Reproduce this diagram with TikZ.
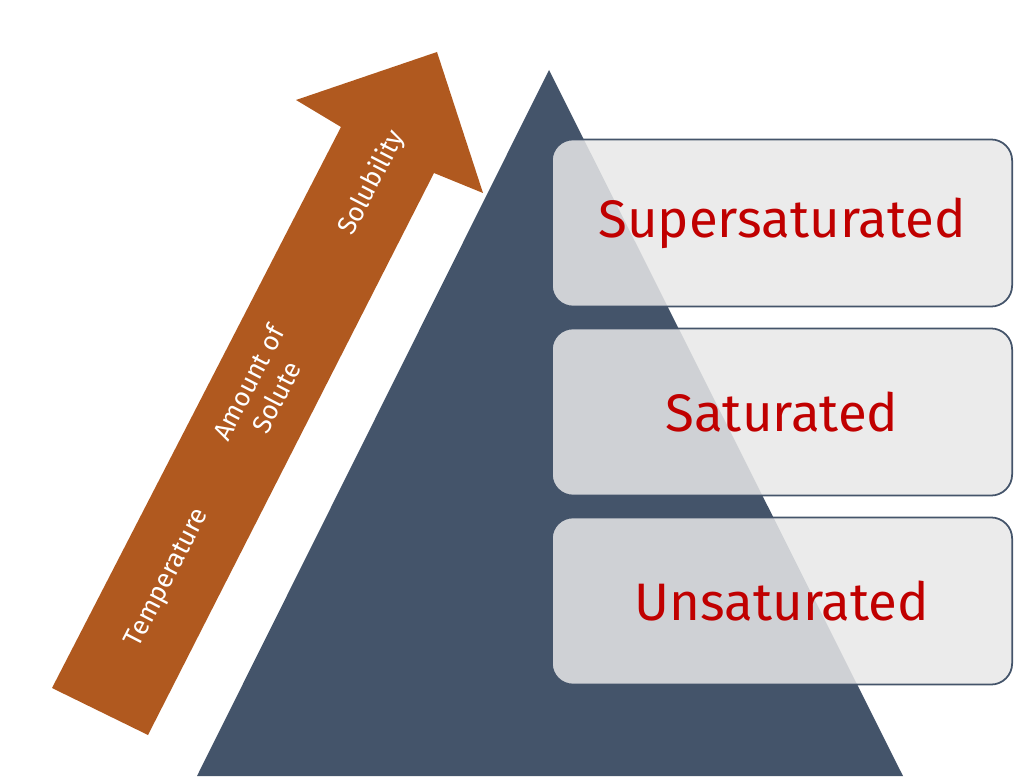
\documentclass[tikz,border=0pt]{standalone}
\usepackage{fontspec}
\setmainfont{Fira Sans}
\definecolor{slate}{HTML}{44546A}
\definecolor{rust}{HTML}{B0591F}
\definecolor{boxred}{HTML}{C00000}
\tikzset{
  level/.style={draw=slate, line width=0.5pt, rounded corners=6pt, fill=gray!18, fill opacity=0.85,
    text opacity=1, minimum width=4.6cm, minimum height=1.67cm, text=boxred, font=\fontsize{15}{18}\selectfont},
  factor/.style={text=white, rotate=62.7, font=\fontsize{7.5}{9}\selectfont, align=center}
}
\begin{document}
\begin{tikzpicture}[x=0.01cm, y=-0.01cm]
  \useasboundingbox (0,0) rectangle (1024,779);

  % pyramid
  \fill[slate] (549,70) -- (903,776) -- (197,776) -- cycle;

  % rising arrow
  \fill[rust] (52,688) -- (341,127) -- (296,100) -- (437,52) -- (483,193)
              -- (434,173) -- (148,735) -- cycle;
  \node[factor] (temp) at (168,578) {Temperature};
  \node[factor] (solute) at (262,390) {Amount of\\Solute};
  \node[factor] (solub) at (372,183) {Solubility};

  % levels
  \node[level] (super) at (782,223) {Supersaturated};
  \node[level] (sat) at (782,412) {Saturated};
  \node[level] (unsat) at (782,601) {Unsaturated};
\end{tikzpicture}
\end{document}
